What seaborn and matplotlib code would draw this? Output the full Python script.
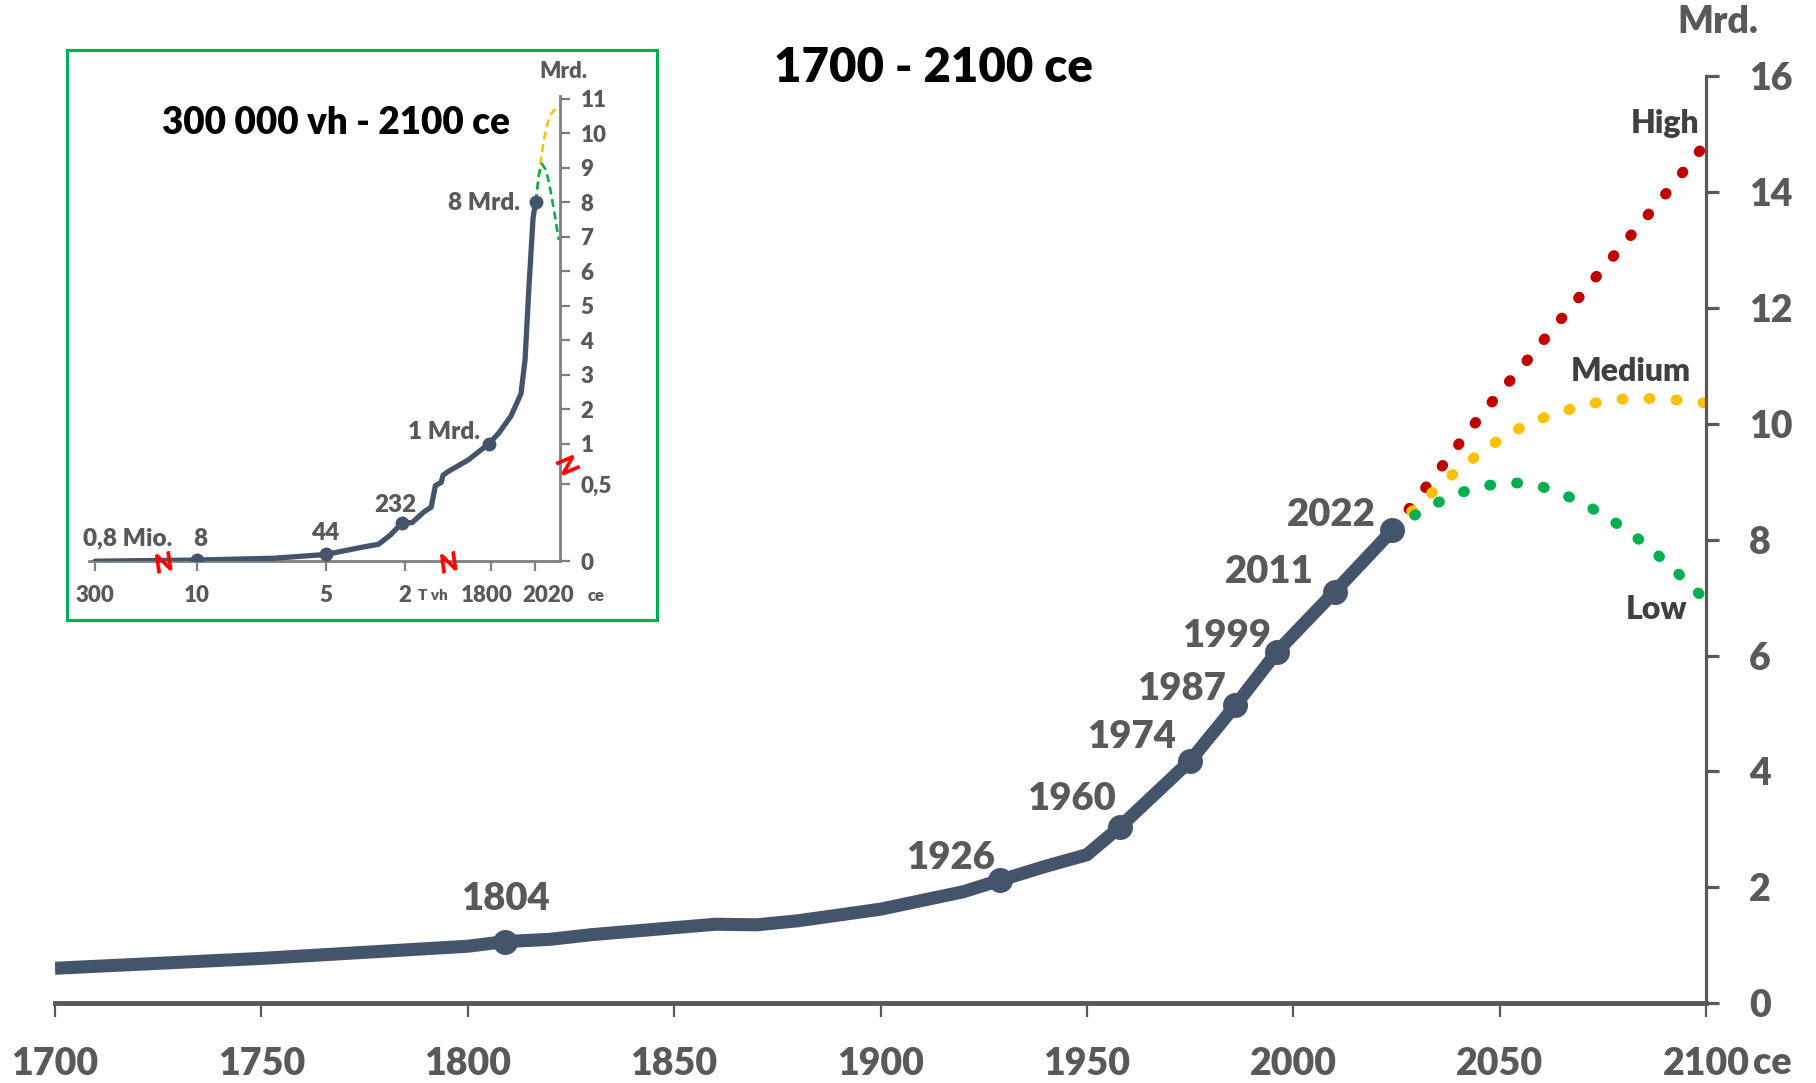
import matplotlib
matplotlib.use("Agg")
import matplotlib.pyplot as plt
import matplotlib.transforms as mtransforms
from matplotlib.patches import Rectangle
import seaborn as sns
import numpy as np

# ---------------- main chart data (Mrd.) ----------------
years = [1700, 1750, 1800, 1809, 1820, 1830, 1850, 1860, 1870, 1880, 1900,
         1920, 1929, 1940, 1950, 1958, 1975, 1986, 1996, 2010, 2024]
pop = [0.60, 0.77, 0.98, 1.06, 1.10, 1.18, 1.30, 1.36, 1.35, 1.42, 1.62,
       1.92, 2.12, 2.36, 2.56, 3.04, 4.18, 5.14, 6.06, 7.10, 8.16]

milestone_labels = ["1804", "1926", "1960", "1974", "1987", "1999", "2011", "2022"]
milestone_years = [1809, 1929, 1958, 1975, 1986, 1996, 2010, 2024]
milestone_pop = [1.06, 2.12, 3.04, 4.18, 5.14, 6.06, 7.10, 8.16]

proj_years = [2024, 2030, 2035, 2040, 2045, 2050, 2055, 2060, 2065, 2070,
              2075, 2080, 2085, 2090, 2095, 2100]
proj_high = [8.16, 8.71, 9.17, 9.64, 10.10, 10.54, 10.95, 11.39, 11.82, 12.25,
             12.68, 13.10, 13.53, 13.95, 14.40, 14.85]
proj_medium = [8.16, 8.58, 8.90, 9.21, 9.48, 9.73, 9.93, 10.09, 10.21, 10.31,
               10.39, 10.43, 10.44, 10.43, 10.40, 10.36]
proj_low = [8.16, 8.45, 8.64, 8.80, 8.91, 8.97, 8.98, 8.92, 8.80, 8.63,
            8.44, 8.20, 7.94, 7.63, 7.30, 6.95]

# ---------------- inset data (year ce, Mrd.) ----------------
inset_years = [-298000, -8000, -5000, -3000, -1500, -1000, -550, -100, 150, 400,
               550, 640, 760, 800, 920, 1330, 1760, 1840, 1900, 1950, 1970,
               1990, 2010, 2022]
inset_pop = [0.0008, 0.008, 0.02, 0.044, 0.095, 0.11, 0.17, 0.25, 0.25, 0.32,
             0.35, 0.49, 0.52, 0.61, 0.66, 0.80, 1.0, 1.31, 1.80, 2.45, 3.43,
             5.60, 7.55, 8.0]
inset_dot_years = [-8000, -3000, -100, 1760, 2022]
inset_dot_pop = [0.008, 0.05, 0.25, 1.0, 8.0]
inset_dot_labels = ["8", "44", "232", "1 Mrd.", "8 Mrd."]
inset_med_years = [2022, 2033, 2043, 2053, 2063, 2073, 2083, 2100]
inset_med = [8.0, 8.8, 9.44, 9.95, 10.31, 10.53, 10.66, 10.72]
inset_low_years = [2022, 2033, 2043, 2055, 2067, 2083, 2100]
inset_low = [8.0, 8.8, 9.11, 8.95, 8.57, 7.8, 6.9]

inset_xticks = [-298000, -8000, -3000, 0, 1800, 2020]
inset_xticklabels = ["300", "10", "5", "2", "1800", "2020"]
inset_yticks = [0, 0.5, 1, 2, 3, 4, 5, 6, 7, 8, 9, 10, 11]
inset_yticklabels = ["0", "0,5", "1", "2", "3", "4", "5", "6", "7", "8", "9", "10", "11"]

# broken-axis scale for the inset (value -> relative position)
brk_x_val = [-315000, -298000, -8000, -3000, 0, 1800, 2020, 2100, 2110]
brk_x_pos = [75, 90, 352, 683, 887, 1108, 1222, 1283, 1290.6]
brk_y_val = [0, 0.5, 1, 11, 12]
brk_y_pos = [0, 205, 312, 1228, 1319.6]

MAIN = "#44546A"
GREY = "#595959"
RED = "#C00000"
ORANGE = "#FFC000"
GREEN = "#00B050"

sns.set_theme(style="white")
plt.rcParams["font.family"] = ["Lato", "DejaVu Sans"]
plt.rcParams["font.weight"] = "heavy"

W, H = 1816, 1083
fig = plt.figure(figsize=(W / 100, H / 100), dpi=100)
fig.patch.set_facecolor("white")


def fx(px):
    return px / W


def fy(py):
    return 1 - py / H


# ---------------- main axes ----------------
ax = fig.add_axes([fx(55), fy(1003), fx(1706) - fx(55), fy(76.4) - fy(1003)])
ax.set_facecolor("white")

dots = (0, (0.1, 2.4))
for vals, col in [(proj_high, RED), (proj_medium, ORANGE), (proj_low, GREEN)]:
    sns.lineplot(x=proj_years, y=vals, color=col, lw=7.8, linestyle=dots,
                 dash_capstyle="round", ax=ax, zorder=2)

sns.lineplot(x=years, y=pop, color=MAIN, lw=9.4, ax=ax, zorder=3,
             solid_capstyle="butt", solid_joinstyle="round")
sns.scatterplot(x=milestone_years, y=milestone_pop, s=18 ** 2, color=MAIN,
                edgecolor=MAIN, linewidth=0, ax=ax, zorder=4)

label_offsets = [(0, 43), (-50, 22), (-48, 28), (-59, 24), (-54, 16),
                 (-50, 16), (-65, 20), (-61, 15)]
for lab, x, y, off in zip(milestone_labels, milestone_years, milestone_pop, label_offsets):
    ax.annotate(lab, (x, y), xytext=off, textcoords="offset pixels",
                ha="center", va="center", fontsize=27.5, color=GREY)

ax.text(2090.1, 15.18, "High", ha="center", va="center", fontsize=23, color="#404040")
ax.text(2081.8, 10.9, "Medium", ha="center", va="center", fontsize=23, color="#404040")
ax.text(2088.1, 6.8, "Low", ha="center", va="center", fontsize=23, color="#404040")

ax.set_xlim(1700, 2100)
ax.set_ylim(0, 16)
ax.set_xticks(range(1700, 2101, 50))
ax.set_yticks(range(0, 17, 2))
ax.yaxis.tick_right()
ax.set_xlabel("")
ax.set_ylabel("")
for s in ["left", "top"]:
    ax.spines[s].set_visible(False)
ax.spines["bottom"].set_color(GREY)
ax.spines["bottom"].set_linewidth(3.5)
ax.spines["right"].set_color(GREY)
ax.spines["right"].set_linewidth(2.3)
ax.tick_params(axis="x", bottom=True, length=10, width=1.6, color=GREY, pad=22,
               labelsize=27, labelcolor=GREY)
ax.tick_params(axis="y", right=True, left=False, length=9, width=2.3, color=GREY,
               pad=22, labelsize=27, labelcolor=GREY)
ax.grid(False)

fig.text(fx(933), fy(68), "1700 - 2100 ce", ha="center", va="center",
         fontsize=34, color="black")
fig.text(fx(1718), fy(22), "Mrd.", ha="center", va="center", fontsize=27, color=GREY)
fig.text(fx(1772), fy(1063), "ce", ha="center", va="center", fontsize=27, color=GREY)

# ---------------- inset ----------------
frame = Rectangle((fx(67), fy(620)), fx(657) - fx(67), fy(50) - fy(620),
                  transform=fig.transFigure, facecolor="white", edgecolor=GREEN,
                  linewidth=2.3, zorder=0.5)
fig.add_artist(frame)

ax_in = fig.add_axes([fx(89.3), fy(561.3), fx(559.7) - fx(89.3), fy(95.8) - fy(561.3)])
ax_in.set_zorder(2)
ax_in.patch.set_alpha(0)


def xf(v):
    return np.interp(v, brk_x_val, brk_x_pos)


def xi(p):
    return np.interp(p, brk_x_pos, brk_x_val)


def yf(v):
    return np.interp(v, brk_y_val, brk_y_pos)


def yi(p):
    return np.interp(p, brk_y_pos, brk_y_val)


ax_in.set_xscale("function", functions=(xf, xi))
ax_in.set_yscale("function", functions=(yf, yi))

sns.lineplot(x=inset_med_years, y=inset_med, color=ORANGE, lw=1.9,
             linestyle=(0, (3, 1.8)), ax=ax_in, zorder=2)
sns.lineplot(x=inset_low_years, y=inset_low, color=GREEN, lw=1.9,
             linestyle=(0, (3, 1.8)), ax=ax_in, zorder=2)
sns.lineplot(x=inset_years, y=inset_pop, color=MAIN, lw=3.8, ax=ax_in, zorder=3,
             solid_joinstyle="round")
sns.scatterplot(x=inset_dot_years, y=inset_dot_pop, s=10 ** 2, color=MAIN,
                edgecolor=MAIN, linewidth=0, ax=ax_in, zorder=4)

inset_offsets = [(3.5, 21.4), (-0.8, 20.7), (-7, 18), (-9, 12), (-15.5, -1.2)]
inset_ha = ["center", "center", "center", "right", "right"]
for lab, x, y, off, ha in zip(inset_dot_labels, inset_dot_years, inset_dot_pop,
                              inset_offsets, inset_ha):
    ax_in.annotate(lab, (x, y), xytext=off, textcoords="offset pixels",
                   ha=ha, va="center", fontsize=17.5, color=GREY)
ax_in.annotate("0,8 Mio.", (inset_years[0], inset_pop[0]), xytext=(33, 22.7),
               textcoords="offset pixels", ha="center", va="center",
               fontsize=17.5, color=GREY)

ax_in.set_xlim(-315000, 2103)
ax_in.set_ylim(0, 11.08)
ax_in.set_xticks(inset_xticks)
ax_in.set_xticklabels(inset_xticklabels)
ax_in.set_yticks(inset_yticks)
ax_in.set_yticklabels(inset_yticklabels)
ax_in.minorticks_off()
ax_in.yaxis.tick_right()
ax_in.set_xlabel("")
ax_in.set_ylabel("")
for s in ["left", "top"]:
    ax_in.spines[s].set_visible(False)
for s in ["bottom", "right"]:
    ax_in.spines[s].set_color("#7F7F7F")
    ax_in.spines[s].set_linewidth(2)
ax_in.tick_params(axis="x", bottom=True, length=7, width=1.6, color="#7F7F7F",
                  pad=10, labelsize=16, labelcolor=GREY)
ax_in.tick_params(axis="y", right=True, left=False, length=7, width=1.6,
                  color="#7F7F7F", pad=8, labelsize=16, labelcolor=GREY)
ax_in.grid(False)

# nudge the crowded "1800" / "2020" labels apart like the reference
label_shift = {"1800": -4, "2020": 13}
for lbl in ax_in.get_xticklabels():
    dx = label_shift.get(lbl.get_text(), 0)
    if dx:
        lbl.set_transform(lbl.get_transform() +
                          mtransforms.ScaledTranslation(dx / 100, 0, fig.dpi_scale_trans))

fig.text(fx(336), fy(122.5), "300 000 vh - 2100 ce", ha="center", va="center",
         fontsize=26.5, color="black", zorder=3)
fig.text(fx(563.4), fy(71.5), "Mrd.", ha="center", va="center", fontsize=16,
         color=GREY, zorder=3)
fig.text(fx(433.3), fy(596), "T vh", ha="center", va="center", fontsize=11,
         color=GREY, zorder=3)
fig.text(fx(596.5), fy(596), "ce", ha="center", va="center", fontsize=12,
         color=GREY, zorder=3)

# broken-axis marks
for bx, by, rot in [(163.2, 563.9, 15), (448.8, 563.9, 15), (565.4, 465.2, -60)]:
    fig.text(fx(bx), fy(by), "N", ha="center", va="center", fontsize=19,
             color="red", fontstyle="italic", rotation=rot, zorder=3)

fig.savefig("out.png", dpi=100, facecolor="white")
